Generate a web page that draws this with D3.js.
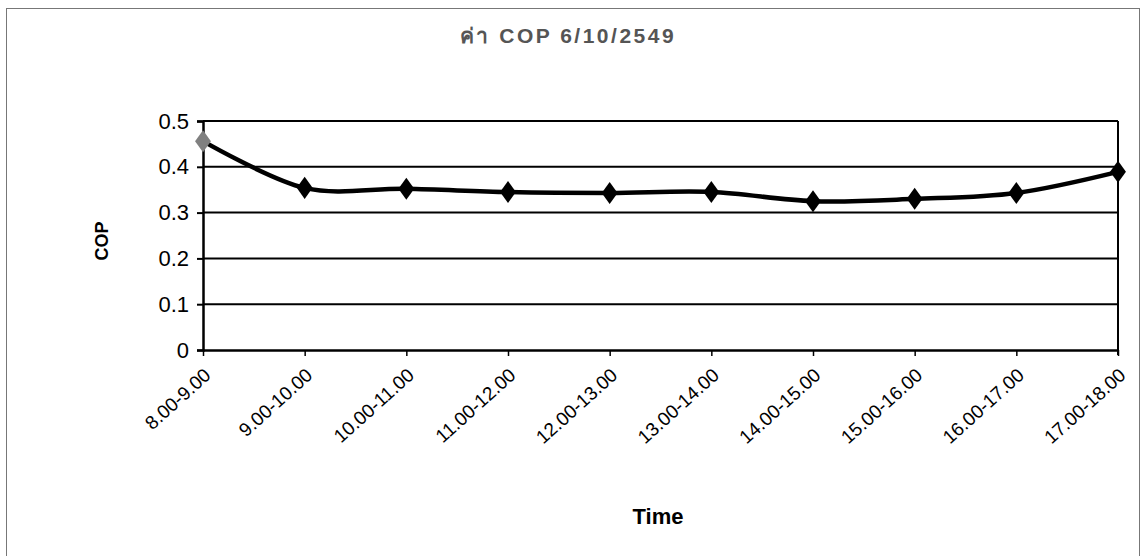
<!DOCTYPE html>
<html>
<head>
<meta charset="utf-8">
<script src="https://cdn.jsdelivr.net/npm/d3@7"></script>
<style>
  body { margin: 0; background: #fff; }
  text { font-family: "Liberation Sans", Arial, sans-serif; }
</style>
</head>
<body>
<svg width="1145" height="556"></svg>
<script>
let categories = ['8.00-9.00', '9.00-10.00', '10.00-11.00', '11.00-12.00', '12.00-13.00',
  '13.00-14.00', '14.00-15.00', '15.00-16.00', '16.00-17.00', '17.00-18.00'];
let copValues = [0.456, 0.354, 0.352, 0.345, 0.343, 0.345, 0.325, 0.33, 0.343, 0.389];
let yTicks = [0, 0.1, 0.2, 0.3, 0.4, 0.5];

let svg = d3.select('svg');

let marginLeft = 203;
let marginTop = 121;
let plotWidth = 1118 - marginLeft;
let plotHeight = 350 - marginTop;

// outer chart border (scanned page frame)
svg.append('rect')
  .attr('x', 6.5).attr('y', 8.5)
  .attr('width', 1133).attr('height', 560)
  .attr('fill', 'none')
  .attr('stroke', '#777')
  .attr('stroke-width', 1);

svg.append('text')
  .attr('x', 568).attr('y', 43)
  .attr('text-anchor', 'middle')
  .attr('font-size', 21)
  .attr('font-weight', 'bold')
  .attr('letter-spacing', 2.5)
  .attr('fill', '#555')
  .text('ค่า COP 6/10/2549');

let x = d3.scalePoint().domain(categories).range([0, plotWidth]);
let y = d3.scaleLinear().domain([0, 0.5]).range([plotHeight, 0]);

let canvas = svg.append('g')
  .attr('transform', `translate(${marginLeft},${marginTop})`);

// gridlines
canvas.selectAll('line.grid')
  .data(yTicks.slice(1))
  .enter()
  .append('line')
  .attr('class', 'grid')
  .attr('x1', 0).attr('x2', plotWidth)
  .attr('y1', d => y(d)).attr('y2', d => y(d))
  .attr('stroke', '#000')
  .attr('stroke-width', 2);

// right edge of plot area
canvas.append('line')
  .attr('x1', plotWidth).attr('x2', plotWidth)
  .attr('y1', 0).attr('y2', plotHeight + 5)
  .attr('stroke', '#000')
  .attr('stroke-width', 2);

let yAxis = d3.axisLeft(y).tickValues(yTicks).tickSize(6).tickPadding(8)
  .tickFormat(d => d === 0 ? '0' : d3.format('.1f')(d));
let yg = canvas.append('g').call(yAxis);
yg.select('.domain').attr('stroke-width', 2.5);
yg.selectAll('.tick line').attr('stroke-width', 2);
yg.selectAll('text').attr('font-size', 22).attr('fill', '#000')
  .attr('font-family', '"Liberation Sans", Arial, sans-serif');

let xAxis = d3.axisBottom(x).tickSize(6).tickSizeOuter(0);
let xg = canvas.append('g').attr('transform', `translate(0,${plotHeight})`).call(xAxis);
xg.select('.domain').attr('stroke-width', 2.5);
xg.selectAll('.tick line').attr('stroke-width', 1.5);
xg.selectAll('text')
  .attr('font-size', 19).attr('fill', '#000')
  .attr('font-family', '"Liberation Sans", Arial, sans-serif')
  .attr('text-anchor', 'end')
  .attr('x', 0).attr('y', 0)
  .attr('dy', '0.35em')
  .attr('transform', 'translate(4,22) rotate(-42)');

// line
let line = d3.line()
  .x((d, i) => x(categories[i]))
  .y(d => y(d))
  .curve(d3.curveCardinal.tension(0));

canvas.append('path')
  .datum(copValues)
  .attr('d', line)
  .attr('fill', 'none')
  .attr('stroke', '#000')
  .attr('stroke-width', 4.5);

canvas.selectAll('path.marker')
  .data(copValues)
  .enter()
  .append('path')
  .attr('class', 'marker')
  .attr('d', d3.symbol().type(d3.symbolDiamond).size(140))
  .attr('transform', (d, i) => `translate(${x(categories[i])},${y(d)}) scale(1.25,1)`)
  .attr('fill', (d, i) => i === 0 ? '#808080' : '#000');

// axis titles
svg.append('text')
  .attr('transform', 'translate(108,241) rotate(-90)')
  .attr('text-anchor', 'middle')
  .attr('font-size', 18)
  .attr('font-weight', 'bold')
  .text('COP');

svg.append('text')
  .attr('x', 658).attr('y', 524)
  .attr('text-anchor', 'middle')
  .attr('font-size', 22)
  .attr('font-weight', 'bold')
  .text('Time');
</script>
</body>
</html>
